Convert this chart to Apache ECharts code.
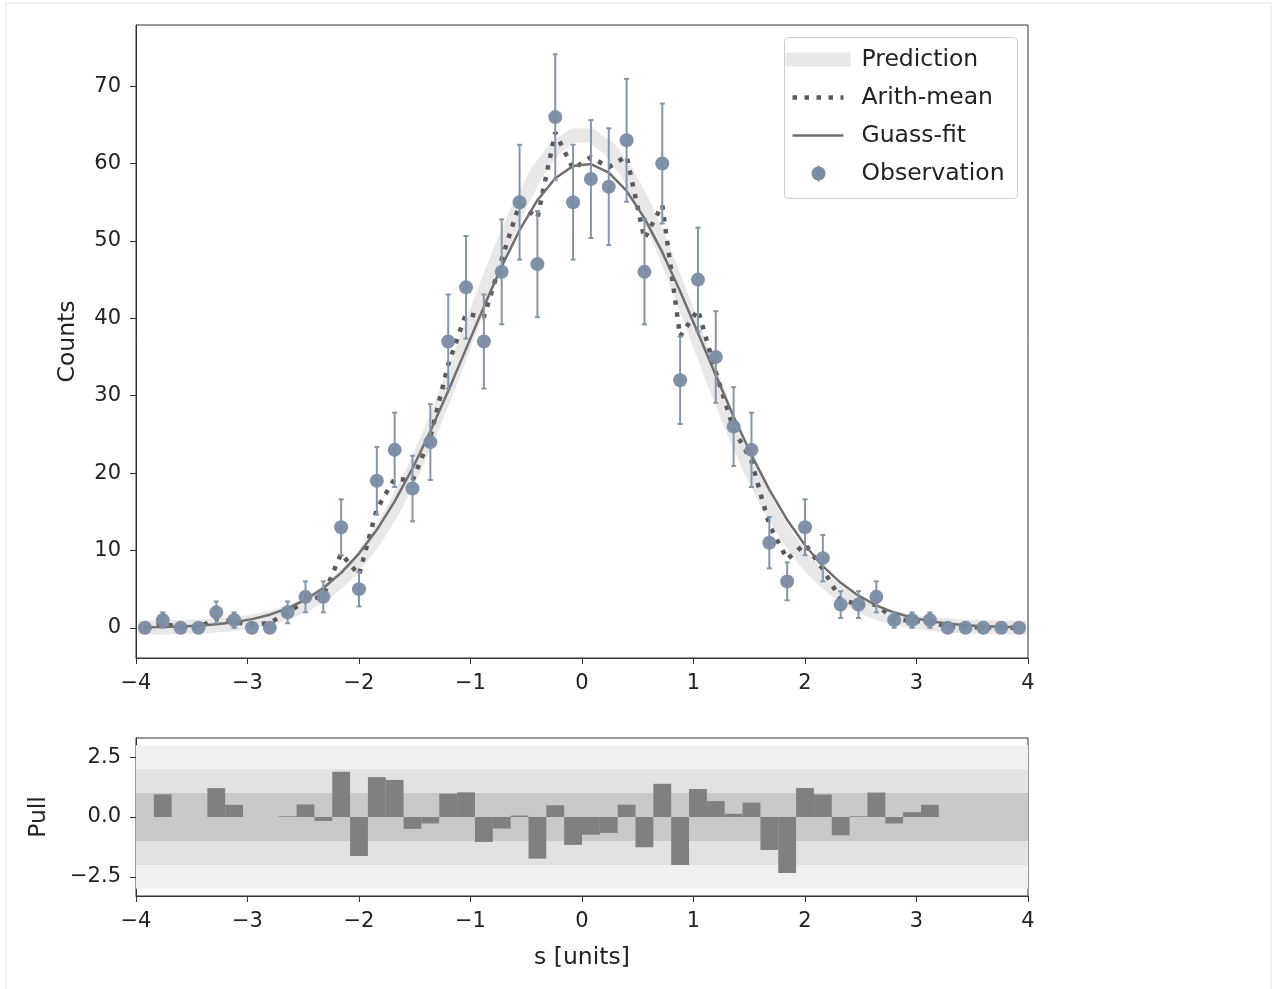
<!DOCTYPE html>
<html>
<head>
<meta charset="utf-8">
<script src="https://cdn.jsdelivr.net/npm/echarts@6/dist/echarts.min.js"></script>
<style>
  html, body { margin: 0; padding: 0; background: #ffffff; }
  #chart { width: 1274px; height: 989px; }
</style>
</head>
<body>
<div id="chart"></div>
<script>
// Bin centres (bin width 0.16 from -4 to 4)
const binCenters = [-3.92,-3.76,-3.60,-3.44,-3.28,-3.12,-2.96,-2.80,-2.64,-2.48,-2.32,-2.16,-2.00,-1.84,-1.68,-1.52,-1.36,-1.20,-1.04,-0.88,-0.72,-0.56,-0.40,-0.24,-0.08,0.08,0.24,0.40,0.56,0.72,0.88,1.04,1.20,1.36,1.52,1.68,1.84,2.00,2.16,2.32,2.48,2.64,2.80,2.96,3.12,3.28,3.44,3.60,3.76,3.92];
const BIN_WIDTH = 0.16;

// Observed counts per bin and their errors
const observed = [0,1,0,0,2,1,0,0,2,4,4,13,5,19,23,18,24,37,44,37,46,55,47,66,55,58,57,63,46,60,32,45,35,26,23,11,6,13,9,3,3,4,1,1,1,0,0,0,0,0];
const observedErr = [0,1,0,0,1.41,1,0,0,1.41,2,2,3.61,2.24,4.36,4.80,4.24,4.90,6.08,6.63,6.08,6.78,7.42,6.86,8.12,7.42,7.62,7.55,7.94,6.78,7.75,5.66,6.71,5.92,5.10,4.80,3.32,2.45,3.61,3.00,1.73,1.73,2.00,1,1,1,0,0,0,0,0];

// Expected counts (prediction)
const prediction = [0.029,0.054,0.098,0.172,0.294,0.491,0.799,1.266,1.957,2.949,4.330,6.191,8.638,11.743,15.568,20.110,25.313,31.069,37.167,43.337,49.256,54.567,58.923,62.018,63.626,63.626,62.018,58.923,54.567,49.256,43.337,37.167,31.069,25.313,20.110,15.568,11.743,8.638,6.191,4.330,2.949,1.957,1.266,0.799,0.491,0.294,0.172,0.098,0.054,0.029];

// Arithmetic mean of observation and prediction
const arithMean = [0.015,0.527,0.049,0.086,1.147,0.746,0.400,0.633,1.979,3.475,4.165,9.596,6.819,15.372,19.284,19.055,24.657,34.035,40.584,40.169,47.628,54.784,52.962,64.009,59.313,60.813,59.509,60.962,50.284,54.628,37.669,41.084,33.035,25.657,21.555,13.284,8.872,10.819,7.596,3.665,2.975,2.979,1.133,0.900,0.746,0.147,0.086,0.049,0.027,0.015];

// Gaussian fit evaluated at the bin centres
const gaussFit = [0.058,0.100,0.170,0.283,0.458,0.725,1.123,1.699,2.514,3.636,5.139,7.098,9.589,12.658,16.331,20.598,25.394,30.604,36.047,41.506,46.714,51.390,55.260,58.087,59.678,59.933,58.834,56.454,52.950,48.544,43.504,38.110,32.627,27.308,22.341,17.864,13.964,10.669,7.969,5.817,4.151,2.896,1.974,1.315,0.857,0.546,0.339,0.207,0.123,0.071];

// Pull per bin
const pull = [0,0.946,0,0,1.206,0.509,0,0,0.030,0.526,-0.165,1.889,-1.628,1.666,1.549,-0.497,-0.268,0.975,1.030,-1.042,-0.481,0.058,-1.739,0.490,-1.164,-0.739,-0.665,0.514,-1.264,1.387,-2.005,1.167,0.664,0.135,0.603,-1.378,-2.344,1.209,0.937,-0.768,0.029,1.020,-0.270,0.200,0.510,0,0,0,0,0];

// Pull bands: [low, high, colour] drawn outer to inner
const pullBands = [[-3, 3, '#f0f0f0'], [-2, 2, '#e2e2e2'], [-1, 1, '#c9c9c9']];

// Axis ticks
const xTicks = [-4, -3, -2, -1, 0, 1, 2, 3, 4];
const countTicks = [0, 10, 20, 30, 40, 50, 60, 70];
const pullTicks = [-2.5, 0, 2.5];

const legendNames = ['Prediction', 'Arith-mean', 'Guass-fit', 'Observation'];

const FONT = 'DejaVu Sans';
const TEXT = '#222222';
const FRAME = '#333333';
const PT_COLOR = '#7a8ca3';
const ERR_COLOR = '#8596ab';
const TICK_FONT = 21;
const LABEL_FONT = 23.5;

const zip = (xs, ys) => xs.map((x, i) => [x, ys[i]]);
const minusSign = v => String(v).replace('-', '\u2212');

const chart = echarts.init(document.getElementById('chart'), null, { renderer: 'canvas' });

function xAxisDef(gridIndex, withName) {
  const ax = {
    type: 'value', gridIndex, min: xTicks[0], max: xTicks[xTicks.length - 1], interval: 1,
    axisLine: { show: true, onZero: false, lineStyle: { color: FRAME, width: 1 } },
    axisTick: { show: true, length: 6, lineStyle: { color: FRAME, width: 1 } },
    axisLabel: { fontFamily: FONT, fontSize: TICK_FONT, color: TEXT, margin: 15, formatter: v => minusSign(v) },
    splitLine: { show: false }
  };
  if (withName) {
    ax.name = 's [units]';
    ax.nameLocation = 'middle';
    ax.nameGap = 50;
    ax.nameTextStyle = { fontFamily: FONT, fontSize: LABEL_FONT, color: TEXT };
  }
  return ax;
}

const option = {
  backgroundColor: '#ffffff',
  animation: false,
  grid: [
    { left: 136, top: 25, width: 892, height: 633, show: true, borderColor: FRAME, borderWidth: 1, backgroundColor: 'transparent' },
    { left: 136, top: 738, width: 892, height: 158, show: true, borderColor: FRAME, borderWidth: 1, backgroundColor: 'transparent' }
  ],
  xAxis: [xAxisDef(0, false), xAxisDef(1, true)],
  yAxis: [
    {
      type: 'value', gridIndex: 0, min: -3.9, max: 77.9,
      name: 'Counts', nameLocation: 'middle', nameGap: 56, nameRotate: 90,
      nameTextStyle: { fontFamily: FONT, fontSize: LABEL_FONT, color: TEXT },
      axisLine: { show: true, onZero: false, lineStyle: { color: FRAME, width: 1 } },
      axisTick: { show: true, length: 6, customValues: countTicks, lineStyle: { color: FRAME, width: 1 } },
      axisLabel: { fontFamily: FONT, fontSize: TICK_FONT, color: TEXT, margin: 15, customValues: countTicks },
      splitLine: { show: false }
    },
    {
      type: 'value', gridIndex: 1, min: -3.3, max: 3.3,
      name: 'Pull', nameLocation: 'middle', nameGap: 85, nameRotate: 90,
      nameTextStyle: { fontFamily: FONT, fontSize: LABEL_FONT, color: TEXT },
      axisLine: { show: true, onZero: false, lineStyle: { color: FRAME, width: 1 } },
      axisTick: { show: true, length: 6, customValues: pullTicks, lineStyle: { color: FRAME, width: 1 } },
      axisLabel: { fontFamily: FONT, fontSize: TICK_FONT, color: TEXT, margin: 15, customValues: pullTicks,
                   formatter: v => minusSign(v.toFixed(1)) },
      splitLine: { show: false }
    }
  ],
  series: [
    {
      name: legendNames[0], type: 'line', xAxisIndex: 0, yAxisIndex: 0, z: 2,
      data: zip(binCenters, prediction), showSymbol: false, symbol: 'none',
      lineStyle: { color: '#e8e8e8', width: 14, cap: 'square', join: 'round' }
    },
    {
      name: legendNames[1], type: 'line', xAxisIndex: 0, yAxisIndex: 0, z: 3,
      data: zip(binCenters, arithMean), showSymbol: false, symbol: 'none',
      lineStyle: { color: '#5a5a5a', width: 4.5, type: [4.5, 7.5], cap: 'butt' }
    },
    {
      name: legendNames[2], type: 'line', xAxisIndex: 0, yAxisIndex: 0, z: 4,
      data: zip(binCenters, gaussFit), showSymbol: false, symbol: 'none',
      lineStyle: { color: '#6f6f6f', width: 2.5 }
    },
    {
      name: 'obs-errors', type: 'custom', xAxisIndex: 0, yAxisIndex: 0, z: 5,
      coordinateSystem: 'cartesian2d',
      data: binCenters.map((x, i) => [x, observed[i], observedErr[i]]),
      encode: { x: 0, y: 1 },
      renderItem: (params, api) => {
        const x = api.value(0), y = api.value(1), e = api.value(2);
        if (!e) return null;
        const lo = api.coord([x, y - e]);
        const hi = api.coord([x, y + e]);
        const cap = 2.5;
        const style = { stroke: ERR_COLOR, lineWidth: 2 };
        return {
          type: 'group',
          children: [
            { type: 'line', shape: { x1: lo[0], y1: lo[1], x2: hi[0], y2: hi[1] }, style },
            { type: 'line', shape: { x1: lo[0] - cap, y1: lo[1], x2: lo[0] + cap, y2: lo[1] }, style },
            { type: 'line', shape: { x1: hi[0] - cap, y1: hi[1], x2: hi[0] + cap, y2: hi[1] }, style }
          ]
        };
      }
    },
    {
      name: legendNames[3], type: 'scatter', xAxisIndex: 0, yAxisIndex: 0, z: 6,
      data: zip(binCenters, observed), symbol: 'circle', symbolSize: 14,
      itemStyle: { color: PT_COLOR, opacity: 0.95 }
    },
    {
      name: 'pull-bands', type: 'custom', xAxisIndex: 1, yAxisIndex: 1, z: 1,
      coordinateSystem: 'cartesian2d',
      data: pullBands.map(b => [b[0], b[1]]),
      encode: { x: -1, y: [0, 1] },
      renderItem: (params, api) => {
        const lo = api.value(0), hi = api.value(1);
        const p0 = api.coord([xTicks[0], hi]);
        const p1 = api.coord([xTicks[xTicks.length - 1], lo]);
        return {
          type: 'rect',
          shape: { x: p0[0], y: p0[1], width: p1[0] - p0[0], height: p1[1] - p0[1] },
          style: { fill: pullBands[params.dataIndex][2] }
        };
      }
    },
    {
      name: 'pull', type: 'custom', xAxisIndex: 1, yAxisIndex: 1, z: 3,
      coordinateSystem: 'cartesian2d',
      data: zip(binCenters, pull),
      encode: { x: 0, y: 1 },
      renderItem: (params, api) => {
        const x = api.value(0), v = api.value(1);
        if (!v) return null;
        const a = api.coord([x - BIN_WIDTH / 2, 0]);
        const b = api.coord([x + BIN_WIDTH / 2, v]);
        return {
          type: 'rect',
          shape: { x: a[0], y: Math.min(a[1], b[1]), width: b[0] - a[0], height: Math.abs(b[1] - a[1]) },
          style: { fill: '#808080' }
        };
      }
    }
  ],
  graphic: [
    // light frame around the figure
    { type: 'line', shape: { x1: 6, y1: 3, x2: 1271, y2: 3 }, style: { stroke: '#e3e3e3', lineWidth: 1 }, z: 0 },
    { type: 'line', shape: { x1: 6, y1: 3, x2: 6, y2: 989 }, style: { stroke: '#e3e3e3', lineWidth: 1 }, z: 0 },
    { type: 'line', shape: { x1: 1271, y1: 3, x2: 1271, y2: 989 }, style: { stroke: '#e3e3e3', lineWidth: 1 }, z: 0 },
    // legend
    {
      type: 'group', left: 784, top: 37, z: 100,
      children: [
        { type: 'rect', shape: { x: 0, y: 0, width: 233, height: 161, r: 4 },
          style: { fill: 'rgba(255,255,255,0.85)', stroke: '#cccccc', lineWidth: 1 } },
        { type: 'line', shape: { x1: 8, y1: 22, x2: 59, y2: 22 },
          style: { stroke: '#e8e8e8', lineWidth: 14, lineCap: 'square' } },
        { type: 'line', shape: { x1: 8, y1: 60, x2: 59, y2: 60 },
          style: { stroke: '#5a5a5a', lineWidth: 4.5, lineDash: [4.5, 7.5] } },
        { type: 'line', shape: { x1: 8, y1: 98, x2: 59, y2: 98 },
          style: { stroke: '#6f6f6f', lineWidth: 2.5 } },
        { type: 'line', shape: { x1: 34, y1: 128, x2: 34, y2: 144 },
          style: { stroke: ERR_COLOR, lineWidth: 2 } },
        { type: 'circle', shape: { cx: 34, cy: 136, r: 7 }, style: { fill: PT_COLOR } },
        { type: 'text', x: 77, y: 22, style: { text: legendNames[0], font: LABEL_FONT + 'px "DejaVu Sans"', fill: TEXT, verticalAlign: 'middle' } },
        { type: 'text', x: 77, y: 60, style: { text: legendNames[1], font: LABEL_FONT + 'px "DejaVu Sans"', fill: TEXT, verticalAlign: 'middle' } },
        { type: 'text', x: 77, y: 98, style: { text: legendNames[2], font: LABEL_FONT + 'px "DejaVu Sans"', fill: TEXT, verticalAlign: 'middle' } },
        { type: 'text', x: 77, y: 136, style: { text: legendNames[3], font: LABEL_FONT + 'px "DejaVu Sans"', fill: TEXT, verticalAlign: 'middle' } }
      ]
    }
  ]
};

chart.setOption(option);
</script>
</body>
</html>
